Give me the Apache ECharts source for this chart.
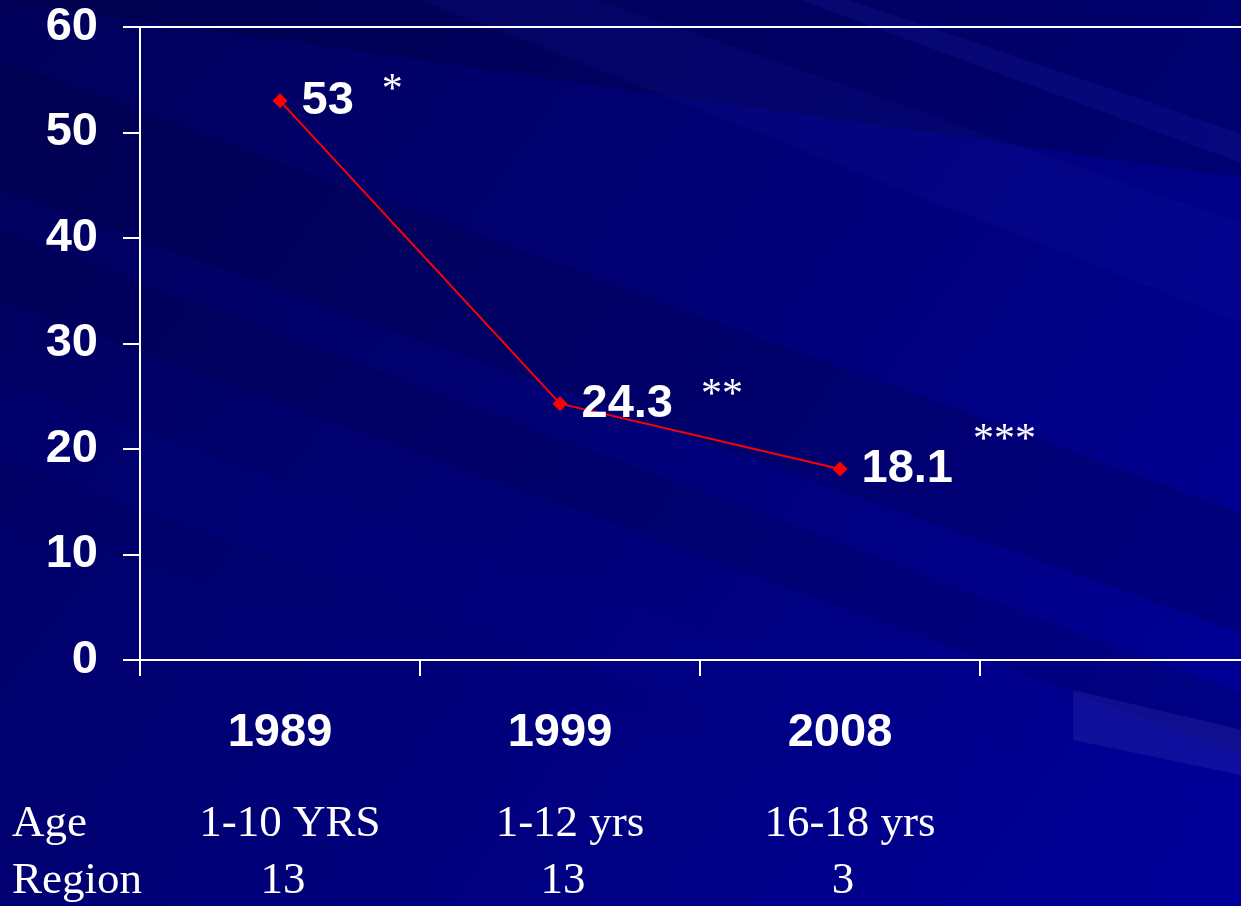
<!DOCTYPE html>
<html>
<head>
<meta charset="utf-8">
<script src="https://cdn.jsdelivr.net/npm/echarts@6/dist/echarts.min.js"></script>
<style>
html, body { margin: 0; padding: 0; background: #000070; overflow: hidden; }
/* the plot runs past the right edge of the window, so the div is wider */
#chart { width: 1260px; height: 906px; }
</style>
</head>
<body>
<div id="chart"></div>
<script>
// chart data
const years = ['1989', '1999', '2008', ''];
const rates = [53, 24.3, 18.1, '-'];
const stars = ['*', '**', '***', ''];
const ages = ['1-10 YRS', '1-12 yrs', '16-18 yrs', ''];
const regions = ['13', '13', '3', ''];
const rowNames = ['Age', 'Region'];
const yMin = 0, yMax = 60, yStep = 10;

const sans = 'Liberation Sans, Arial, sans-serif';
const serif = 'Liberation Serif, Times New Roman, serif';

// background streaks (decoration only)
function band(pts, color) {
    return { type: 'polygon', z: -10, silent: true, shape: { points: pts }, style: { fill: color } };
}
const streaks = [
    band([[0, 0], [1260, 0], [1260, 180], [0, 0]], 'rgba(0,0,30,0.2)'),
    band([[0, 60], [1260, 520], [1260, 640], [0, 190]], 'rgba(0,0,40,0.18)'),
    band([[0, 230], [1260, 700], [1260, 760], [0, 300]], 'rgba(0,0,40,0.15)'),
    band([[0, 380], [1260, 830], [1260, 906], [0, 460]], 'rgba(0,0,150,0.15)'),
    band([[600, 0], [1260, 230], [1260, 330], [420, 0]], 'rgba(40,40,200,0.1)'),
    band([[850, 0], [1260, 140], [1260, 170], [800, 0]], 'rgba(60,60,220,0.12)'),
    band([[0, 520], [1260, 906], [0, 906]], 'rgba(0,0,150,0.1)'),
    band([[1073, 690], [1260, 734], [1260, 779], [1073, 740]], 'rgba(120,120,220,0.12)')
];

const rows = rowNames.map((name, i) => ({
    type: 'text', left: 12, top: 802 + i * 57, z: 5,
    style: { text: name, fill: '#fff', font: '45px ' + serif }
}));

const starStyle = (gap, raise) => ({ color: '#fff', fontSize: 42, fontFamily: serif, padding: [0, 0, raise, gap] });

const chart = echarts.init(document.getElementById('chart'));
chart.setOption({
    backgroundColor: {
        type: 'linear', x: 0, y: 0, x2: 1, y2: 1,
        colorStops: [
            { offset: 0, color: '#00005a' },
            { offset: 0.5, color: '#000078' },
            { offset: 1, color: '#00009c' }
        ]
    },
    graphic: streaks.concat(rows),
    grid: { left: 140, top: 27, right: 0, bottom: 246 },
    xAxis: [
        {
            type: 'category', data: years, position: 'bottom', boundaryGap: true,
            axisLine: { lineStyle: { color: '#fff', width: 2 } },
            axisTick: { show: true, interval: 0, length: 16, lineStyle: { color: '#fff', width: 2 } },
            axisLabel: { color: '#fff', fontSize: 47, fontWeight: 'bold', fontFamily: sans, margin: 50 }
        },
        {
            type: 'category', data: years, position: 'top',
            axisLine: { lineStyle: { color: '#fff', width: 2 } },
            axisTick: { show: false }, axisLabel: { show: false }
        },
        {
            type: 'category', data: ages, position: 'bottom',
            axisLine: { show: false }, axisTick: { show: false },
            axisLabel: { color: '#fff', fontSize: 45, fontFamily: serif, margin: 142, padding: [0, 0, 0, 20] }
        },
        {
            type: 'category', data: regions, position: 'bottom',
            axisLine: { show: false }, axisTick: { show: false },
            axisLabel: { color: '#fff', fontSize: 45, fontFamily: serif, margin: 199, padding: [0, 0, 0, 6] }
        }
    ],
    yAxis: {
        type: 'value', min: yMin, max: yMax, interval: yStep,
        axisLine: { show: true, lineStyle: { color: '#fff', width: 2 } },
        axisTick: { show: true, length: 17, lineStyle: { color: '#fff', width: 2 } },
        splitLine: { show: false },
        axisLabel: { color: '#fff', fontSize: 47, fontWeight: 'bold', fontFamily: sans, margin: 42 }
    },
    series: [{
        type: 'line', data: rates, xAxisIndex: 0,
        symbol: 'diamond', symbolSize: 15,
        itemStyle: { color: '#ff0000' },
        lineStyle: { color: '#ff0000', width: 2 },
        label: {
            show: true, position: 'right', distance: 14,
            formatter: p => '{v|' + p.value + '}{s' + p.dataIndex + '|' + stars[p.dataIndex] + '}',
            rich: {
                v: { color: '#fff', fontSize: 47, fontWeight: 'bold', fontFamily: sans },
                s0: starStyle(28, 20),
                s1: starStyle(28, 16),
                s2: starStyle(20, 56)
            }
        },
        animation: false
    }],
    animation: false
});
</script>
</body>
</html>
